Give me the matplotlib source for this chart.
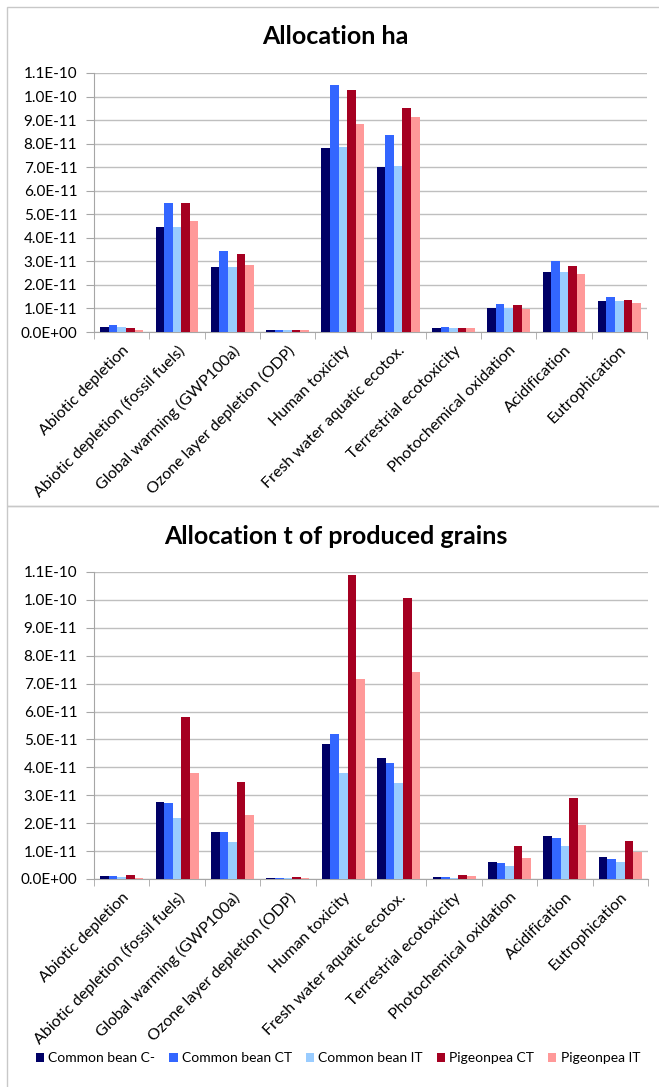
# two stacked grouped bar charts (LCA impact categories)
import matplotlib
matplotlib.use("Agg")
import matplotlib.pyplot as plt
from matplotlib.patches import Patch, Rectangle
from matplotlib.ticker import MultipleLocator, FuncFormatter, FixedLocator
import numpy as np

plt.rcParams['font.family'] = ['Lato', 'DejaVu Sans']

categories = ['Abiotic depletion', 'Abiotic depletion (fossil fuels)',
              'Global warming (GWP100a)', 'Ozone layer depletion (ODP)',
              'Human toxicity', 'Fresh water aquatic ecotox.',
              'Terrestrial ecotoxicity', 'Photochemical oxidation',
              'Acidification', 'Eutrophication']
series = ['Common bean C-', 'Common bean CT', 'Common bean IT',
          'Pigeonpea CT', 'Pigeonpea IT']
colors = ['#000066', '#3366FF', '#99CCFF', '#A50021', '#FF9999']

# values in units of 1E-11
ha_cb_cminus = [0.21, 4.47, 2.74, 0.08, 7.82, 7.02, 0.17, 1.02, 2.53, 1.32]
ha_cb_ct = [0.30, 5.50, 3.45, 0.10, 10.50, 8.37, 0.20, 1.19, 3.01, 1.47]
ha_cb_it = [0.21, 4.47, 2.74, 0.08, 7.85, 7.04, 0.17, 1.02, 2.53, 1.32]
ha_pp_ct = [0.17, 5.47, 3.31, 0.08, 10.27, 9.50, 0.17, 1.13, 2.79, 1.34]
ha_pp_it = [0.08, 4.71, 2.84, 0.07, 8.85, 9.13, 0.17, 0.96, 2.46, 1.23]

t_cb_cminus = [0.10, 2.75, 1.68, 0.04, 4.84, 4.34, 0.07, 0.60, 1.54, 0.79]
t_cb_ct = [0.12, 2.72, 1.69, 0.03, 5.21, 4.15, 0.06, 0.56, 1.47, 0.70]
t_cb_it = [0.07, 2.17, 1.32, 0.02, 3.81, 3.43, 0.05, 0.48, 1.20, 0.62]
t_pp_ct = [0.15, 5.79, 3.49, 0.07, 10.88, 10.07, 0.15, 1.18, 2.91, 1.37]
t_pp_it = [0.04, 3.81, 2.30, 0.04, 7.16, 7.41, 0.10, 0.76, 1.95, 0.97]

ha_data = [ha_cb_cminus, ha_cb_ct, ha_cb_it, ha_pp_ct, ha_pp_it]
t_data = [t_cb_cminus, t_cb_ct, t_cb_it, t_pp_ct, t_pp_it]

W, H = 659, 1087
fig = plt.figure(figsize=(W / 100, H / 100), dpi=100)

# chart area borders
for y0, y1 in [(7, 506), (506, 1095)]:
    fig.patches.append(Rectangle((7 / W, 1 - y1 / H), 1.0, (y1 - y0) / H,
                                 transform=fig.transFigure, fill=False,
                                 edgecolor='#C8C8C8', linewidth=1.0))


def draw_panel(ax, data):
    x = np.arange(len(categories))
    bw = 0.155
    for k, vals in enumerate(data):
        ax.bar(x + (k - 2) * bw, np.array(vals) * 1e-11, width=bw,
               color=colors[k], zorder=3)
    ax.set_xlim(-0.5, len(categories) - 0.5)
    ax.set_ylim(0, 1.1e-10)
    ax.yaxis.set_major_locator(MultipleLocator(1e-11))
    ax.yaxis.set_major_formatter(FuncFormatter(lambda v, p: f"{v:.1E}"))
    ax.grid(axis='y', color='#BFBFBF', linewidth=1.0, zorder=0)
    ax.set_axisbelow(True)
    for s in ['top', 'right']:
        ax.spines[s].set_visible(False)
    for s in ['left', 'bottom']:
        ax.spines[s].set_color('#A6A6A6')
    ax.tick_params(axis='y', direction='out', length=6, color='#A6A6A6',
                   labelsize=11, pad=6)
    ax.set_xticks(x)
    ax.set_xticklabels(categories, rotation=45, ha='right',
                       rotation_mode='anchor', fontsize=11.5)
    ax.tick_params(axis='x', which='major', length=0, pad=8)
    ax.xaxis.set_minor_locator(FixedLocator(np.arange(-0.5, len(categories), 1.0)))
    ax.tick_params(axis='x', which='minor', direction='out', length=5,
                   color='#A6A6A6')


ax1 = fig.add_axes([94 / W, 1 - 332 / H, (647 - 94) / W, (332 - 73) / H])
draw_panel(ax1, ha_data)
ax2 = fig.add_axes([94 / W, 1 - 879 / H, (648 - 94) / W, (879 - 572) / H])
draw_panel(ax2, t_data)

fig.text(335 / W, 1 - 36 / H, 'Allocation ha', ha='center', va='center',
         fontsize=18, fontweight='bold')
fig.text(336 / W, 1 - 536 / H, 'Allocation t of produced grains',
         ha='center', va='center', fontsize=18, fontweight='bold')

handles = [Patch(facecolor=c, edgecolor='none') for c in colors]
fig.legend(handles, series, loc='center', bbox_to_anchor=(338 / W, 1 - 1058 / H),
           ncol=5, frameon=False, fontsize=10, handlelength=0.6,
           handleheight=0.6, handletextpad=0.3, columnspacing=1.0)

fig.savefig('out.png', dpi=100)
